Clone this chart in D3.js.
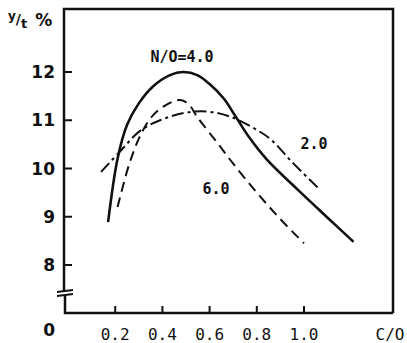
<!DOCTYPE html>
<html lang="en">
<head>
  <title>yield vs C/O</title>
  <script type="text/javascript" src="https://cdnjs.cloudflare.com/ajax/libs/d3/7.8.5/d3.min.js"></script>
  <style>
    body { margin: 0px; background: #fff; }
    svg { display: block; }
  </style>
</head>
<body>
  <script type="text/javascript">
    var width = 407;
    var height = 343;

    // values (x = C/O, y = yield %)
    var xTicks = [0.2, 0.4, 0.6, 0.8, 1.0];
    var xTickLabels = ["0.2", "0.4", "0.6", "0.8", "1.0"];
    var yTicks = [8, 9, 10, 11, 12];

    var co4 = [0.17, 0.21, 0.25, 0.30, 0.36, 0.43, 0.49, 0.55, 0.60, 0.66, 0.71, 0.77, 0.84, 0.98, 1.10, 1.21];
    var yield4 = [8.89, 10.2, 10.9, 11.35, 11.7, 11.93, 12.0, 11.93, 11.75, 11.45, 11.08, 10.63, 10.2, 9.53, 8.98, 8.48];

    var co6 = [0.21, 0.26, 0.31, 0.36, 0.42, 0.475, 0.51, 0.55, 0.63, 0.70, 0.80, 0.90, 1.00];
    var yield6 = [9.2, 10.1, 10.72, 11.1, 11.33, 11.42, 11.34, 11.05, 10.55, 10.1, 9.5, 8.95, 8.45];

    var co2 = [0.14, 0.22, 0.305, 0.39, 0.49, 0.59, 0.69, 0.80, 0.86, 0.95, 1.07];
    var yield2 = [9.93, 10.35, 10.78, 11.0, 11.15, 11.18, 11.07, 10.8, 10.6, 10.13, 9.55];

    var series = [
      {label: "N/O=4.0", co: co4, y: yield4, dash: null, w: 2.6},
      {label: "6.0", co: co6, y: yield6, dash: "10,6", w: 2},
      {label: "2.0", co: co2, y: yield2, dash: "12,4,3,4", w: 2}
    ];

    var x = d3.scaleLinear().domain([0, 1]).range([68, 304]);
    var y = d3.scaleLinear().domain([8, 12]).range([265, 72]);

    var svg = d3.select("body").append("svg")
      .attr("width", width)
      .attr("height", height);

    var ink = "#111";

    // frame and axes
    svg.append("path")
      .attr("d", "M64,291 L64,9 L393,9 L393,313")
      .attr("fill", "none").attr("stroke", ink).attr("stroke-width", 2.5);
    svg.append("path")
      .attr("d", "M65,295 L65,313 L393,313")
      .attr("fill", "none").attr("stroke", ink).attr("stroke-width", 2.5);
    // axis break
    svg.append("path")
      .attr("d", "M57,292 L73,290 M57,296 L73,294")
      .attr("stroke", ink).attr("stroke-width", 2);

    // y ticks
    svg.selectAll(".ytick").data(yTicks).enter().append("line")
      .attr("x1", 64).attr("x2", 72)
      .attr("y1", function (d) { return y(d); })
      .attr("y2", function (d) { return y(d); })
      .attr("stroke", ink).attr("stroke-width", 2);
    svg.selectAll(".ylab").data(yTicks).enter().append("text")
      .attr("x", 55)
      .attr("y", function (d) { return y(d) + 6; })
      .attr("text-anchor", "end")
      .attr("font-family", "DejaVu Sans")
      .attr("font-weight", "bold")
      .attr("font-size", 17)
      .attr("fill", ink)
      .text(function (d) { return d; });
    svg.append("text")
      .attr("x", 55).attr("y", 336)
      .attr("text-anchor", "end")
      .attr("font-family", "DejaVu Sans").attr("font-weight", "bold")
      .attr("font-size", 17).attr("fill", ink)
      .text("0");

    // x ticks
    svg.selectAll(".xtick").data(xTicks).enter().append("line")
      .attr("x1", function (d) { return x(d); })
      .attr("x2", function (d) { return x(d); })
      .attr("y1", 313).attr("y2", 306)
      .attr("stroke", ink).attr("stroke-width", 2);
    svg.selectAll(".xlab").data(xTicks).enter().append("text")
      .attr("x", function (d) { return x(d); })
      .attr("y", 340)
      .attr("text-anchor", "middle")
      .attr("font-family", "DejaVu Sans Mono")
      .attr("font-size", 16)
      .attr("fill", ink)
      .text(function (d, i) { return xTickLabels[i]; });
    svg.append("text")
      .attr("x", 390).attr("y", 340)
      .attr("text-anchor", "middle")
      .attr("font-family", "DejaVu Sans Mono")
      .attr("font-size", 16).attr("fill", ink)
      .text("C/O");

    // y axis title, flowing tspans so the pieces sit side by side
    var yt = svg.append("text")
      .attr("x", 8).attr("y", 20)
      .attr("font-family", "DejaVu Sans").attr("font-weight", "bold")
      .attr("fill", ink);
    yt.append("tspan").attr("font-size", 12).text("y");
    yt.append("tspan").attr("font-size", 14).attr("dy", 4).text("/");
    yt.append("tspan").attr("font-size", 13).attr("dy", 4).text("t");
    yt.append("tspan").attr("font-size", 17).attr("dx", 8).attr("dy", -2).text("%");

    // curves
    var line = d3.line()
      .x(function (d) { return x(d[0]); })
      .y(function (d) { return y(d[1]); })
      .curve(d3.curveCatmullRom.alpha(0.5));

    series.forEach(function (s) {
      var pts = s.co.map(function (c, i) { return [c, s.y[i]]; });
      svg.append("path")
        .attr("d", line(pts))
        .attr("fill", "none")
        .attr("stroke", ink)
        .attr("stroke-width", s.w)
        .attr("stroke-dasharray", s.dash);
    });

    // curve labels
    var labels = [
      {t: "N/O=4.0", x: 182, y: 62},
      {t: "2.0", x: 314, y: 149},
      {t: "6.0", x: 216, y: 194}
    ];
    svg.selectAll(".clab").data(labels).enter().append("text")
      .attr("x", function (d) { return d.x; })
      .attr("y", function (d) { return d.y; })
      .attr("text-anchor", "middle")
      .attr("font-family", "DejaVu Sans Mono")
      .attr("font-weight", "bold")
      .attr("font-size", 15)
      .attr("fill", ink)
      .text(function (d) { return d.t; });
  </script>
</body>
</html>
